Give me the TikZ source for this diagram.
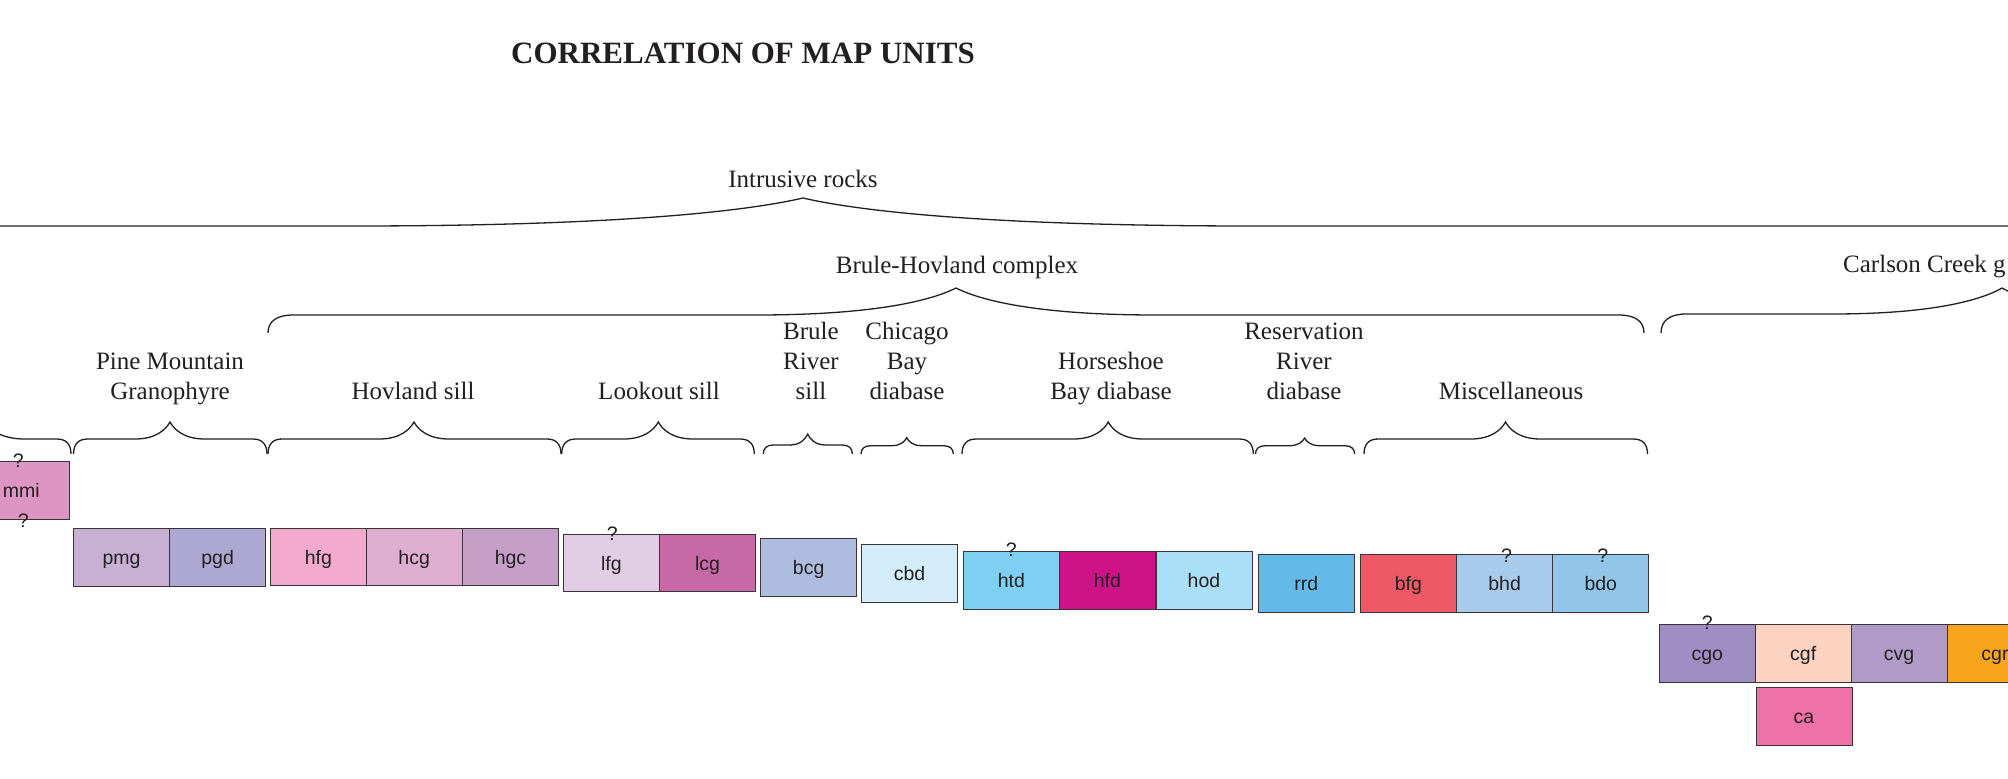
\documentclass[tikz,border=0pt]{standalone}
\usepackage{fontspec}
\setmainfont{Liberation Serif}
\setsansfont{Liberation Sans}
\usepackage{tikz}

\definecolor{cmmi}{HTML}{DD96C3}
\definecolor{cpmg}{HTML}{C8B0D5}
\definecolor{cpgd}{HTML}{ADA8D2}
\definecolor{chfg}{HTML}{F4AACC}
\definecolor{chcg}{HTML}{DEAED0}
\definecolor{chgc}{HTML}{C69FC8}
\definecolor{clfg}{HTML}{E0CCE3}
\definecolor{clcg}{HTML}{C869A7}
\definecolor{cbcg}{HTML}{AEBCE0}
\definecolor{ccbd}{HTML}{D4EDFA}
\definecolor{chtd}{HTML}{7ED0F3}
\definecolor{chfd}{HTML}{CE1388}
\definecolor{chod}{HTML}{AADFF8}
\definecolor{crrd}{HTML}{63B9E8}
\definecolor{cbfg}{HTML}{EF5867}
\definecolor{cbhd}{HTML}{A8CBEB}
\definecolor{cbdo}{HTML}{92C5EA}
\definecolor{ccgo}{HTML}{9E8EC3}
\definecolor{ccgf}{HTML}{FCD2C0}
\definecolor{ccvg}{HTML}{B09BC8}
\definecolor{ccgr}{HTML}{F7A51D}
\definecolor{cca}{HTML}{F070A8}
\definecolor{ink}{HTML}{231F20}

\newcommand{\gbrace}[8]{%
  \draw[bline] (#1,#4) .. controls (#1,{#5+0.35*(#4-#5)}) and ({#1+0.35*#7},#5) .. ({#1+#7},#5)
    -- ({#3-#8},#5) .. controls ({#3-0.4*#8},#5) and ({#3-0.12*#8},{#6+0.45*(#5-#6)}) .. (#3,#6)
    .. controls ({#3+0.12*#8},{#6+0.45*(#5-#6)}) and ({#3+0.4*#8},#5) .. ({#3+#8},#5)
    -- ({#2-#7},#5) .. controls ({#2-0.35*#7},#5) and (#2,{#5+0.35*(#4-#5)}) .. (#2,#4);}

\begin{document}
\begin{tikzpicture}
  [x=1pt,y=-1pt,
   unit/.style={rectangle,draw=ink!90,line width=1pt,minimum width=96pt,minimum height=57.5pt,
     inner sep=0pt,text height=14pt,text depth=0pt,text=ink,font=\sffamily\fontsize{19.5}{22}\selectfont},
   qmark/.style={anchor=base,inner sep=0pt,text=ink,font=\sffamily\fontsize{19.5}{22}\selectfont},
   grp/.style={anchor=base,align=center,inner sep=0pt,text=ink,font=\fontsize{25}{30}\selectfont},
   bline/.style={line width=1.3pt,ink}]

  \path[use as bounding box,fill=white] (0,0) rectangle (2008,779);
  \clip (0,0) rectangle (2008,779);

  \node [anchor=base,inner sep=0pt,text=ink,font=\bfseries\fontsize{31}{36}\selectfont] (title) at (743,63) {CORRELATION OF MAP UNITS};

  \node [grp] (intr) at (803,187) {Intrusive rocks};
  \node [grp] (bhc) at (957,273) {Brule-Hovland complex};
  \node [grp,anchor=base west] (ccg) at (1843,272) {Carlson Creek g};

  \node [grp] (pmgr) at (170,399) {Pine Mountain\\Granophyre};
  \node [grp] (hovs) at (413,399) {Hovland sill};
  \node [grp] (looks) at (659,399) {Lookout sill};
  \node [grp] (brs) at (811,399) {Brule\\River\\sill};
  \node [grp] (cbdb) at (907,399) {Chicago\\Bay\\diabase};
  \node [grp] (hbd) at (1111,399) {Horseshoe\\Bay diabase};
  \node [grp] (rrdb) at (1304,399) {Reservation\\River\\diabase};
  \node [grp] (misc) at (1511,399) {Miscellaneous};

  \gbrace{-400}{2400}{803}{245}{226}{198}{25}{450}
  \gbrace{268}{1644}{956}{333}{315}{288}{25}{200}
  \gbrace{1661}{2343}{2002}{333}{314}{288}{25}{170}
  \gbrace{-120}{71}{-15}{454}{439}{422}{14}{40}
  \gbrace{73.5}{267}{170}{454}{439}{422}{14}{35}
  \gbrace{268}{561}{414}{454}{439}{422}{14}{35}
  \gbrace{561.7}{754.3}{658.3}{454}{439}{422}{14}{35}
  \gbrace{763.3}{852.3}{807.7}{454}{445}{434}{10}{18}
  \gbrace{861}{953.3}{906.7}{454}{445.7}{437.7}{10}{15}
  \gbrace{962}{1253.3}{1108.2}{454}{439}{422}{14}{35}
  \gbrace{1255.5}{1354.6}{1304.6}{454}{445.7}{438}{10}{15}
  \gbrace{1364}{1647.5}{1505.5}{454}{439}{422}{14}{35}

  \foreach \name/\px/\py/\col in {mmi/21.2/490.4/cmmi,pmg/121.5/557.4/cpmg,pgd/217.6/557.4/cpgd,
      hfg/318.3/557/chfg,hcg/414.2/557/chcg,hgc/510.5/557/chgc,lfg/611.3/563/clfg,lcg/707.5/563/clcg,
      bcg/808.7/567.3/cbcg,cbd/909.5/573.3/ccbd,htd/1011.3/580.5/chtd,hfd/1107.3/580.5/chfd,
      hod/1204/580.5/chod,rrd/1306.3/583.3/crrd,bfg/1408.4/583.7/cbfg,bhd/1504.6/583.7/cbhd,
      bdo/1600.8/583.7/cbdo,cgo/1707.3/653.7/ccgo,cgf/1803.2/653.7/ccgf,cvg/1899/653.7/ccvg,
      cgr/1995/653.7/ccgr,ca/1804/716.7/cca}
    \node [unit,fill=\col] (\name) at (\px,\py) {\name};

  \node [qmark] (q1) at ([xshift=-3pt,yshift=-6pt]mmi.north) {?};
  \node [qmark] (q2) at ([xshift=2pt,yshift=-8pt]mmi.south) {?};
  \node [qmark] (q3) at ([xshift=1pt,yshift=-7pt]lfg.north) {?};
  \node [qmark] (q4) at ([yshift=-5pt]htd.north) {?};
  \node [qmark] (q5) at ([xshift=2pt,yshift=-8pt]bhd.north) {?};
  \node [qmark] (q6) at ([xshift=2pt,yshift=-8pt]bdo.north) {?};
  \node [qmark] (q7) at ([yshift=-5pt]cgo.north) {?};

\end{tikzpicture}
\end{document}
